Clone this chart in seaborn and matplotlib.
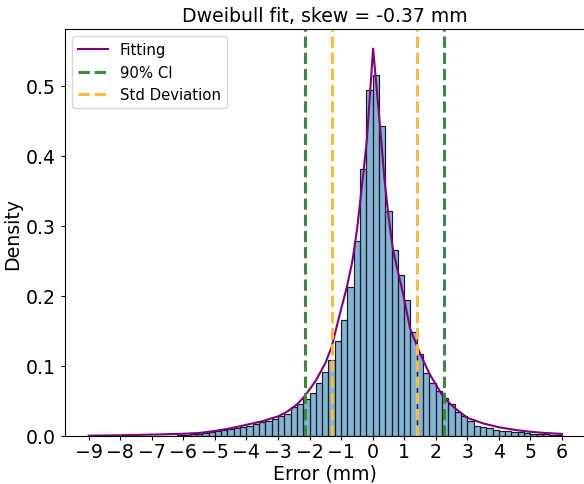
import numpy as np
import pandas as pd
import matplotlib
matplotlib.use("Agg")
import matplotlib.pyplot as plt
import seaborn as sns

# ---- data ----
bin_width = 0.2
bin_range = (-9.0, 6.0)
hist_heights = (
    [0.0] * 10                                          # -9.0 .. -7.2
    + [0.0003, 0.0004, 0.0005, 0.0007, 0.001]           # -7.0 .. -6.2
    + [0.0015, 0.0022, 0.003, 0.004, 0.0052]            # -6.0 .. -5.2
    + [0.0067, 0.0081, 0.0095, 0.011, 0.0129]           # -5.0 .. -4.2
    + [0.0148, 0.017, 0.0195, 0.022, 0.024]             # -4.0 .. -3.2
    + [0.029, 0.032, 0.041, 0.046, 0.053]               # -3.0 .. -2.2
    + [0.061, 0.075, 0.091, 0.109, 0.135]               # -2.0 .. -1.2
    + [0.166, 0.212, 0.278, 0.381, 0.494]               # -1.0 .. -0.2
    + [0.516, 0.442, 0.321, 0.265, 0.230]               #  0.0 ..  0.8
    + [0.194, 0.149, 0.117, 0.090, 0.0757]              #  1.0 ..  1.8
    + [0.0638, 0.0538, 0.0457, 0.0338, 0.028]           #  2.0 ..  2.8
    + [0.021, 0.0148, 0.0124, 0.011, 0.009]             #  3.0 ..  3.8
    + [0.0076, 0.0067, 0.0057, 0.005, 0.004]            #  4.0 ..  4.8
    + [0.0033, 0.003, 0.0025, 0.002, 0.0015]            #  5.0 ..  5.8
)

fit_x = [-9.0, -8.0, -7.0, -6.0, -5.5, -5.0, -4.5, -4.0, -3.5, -3.0, -2.7, -2.4,
         -2.15, -1.8, -1.5, -1.3, -1.0, -0.82, -0.64, -0.49, -0.28, -0.18, 0.015,
         0.2, 0.374, 0.5, 0.64, 0.8, 0.955, 1.19, 1.5, 1.8, 2.25, 2.6, 3.0,
         3.5, 4.0, 4.5, 5.0, 5.5, 6.0]
fit_y = [0.0005, 0.001, 0.002, 0.0032, 0.0043, 0.0072, 0.011, 0.016, 0.021, 0.028,
         0.035, 0.045, 0.057, 0.079, 0.104, 0.127, 0.181, 0.212, 0.250, 0.296,
         0.381, 0.424, 0.553, 0.460, 0.367, 0.315, 0.267, 0.235, 0.205, 0.153,
         0.118, 0.089, 0.055, 0.040, 0.026, 0.018, 0.0125, 0.0088, 0.006, 0.0042,
         0.003]

ci_bounds = [-2.15, 2.25]
std_bounds = [-1.29, 1.40]

title = "Dweibull fit, skew = -0.37 mm"
x_ticks = list(range(-9, 7))
y_ticks = [0.0, 0.1, 0.2, 0.3, 0.4, 0.5]

# ---- plot ----
n_bins = len(hist_heights)
centers = bin_range[0] + bin_width * (np.arange(n_bins) + 0.5)
df = pd.DataFrame({"center": centers, "height": hist_heights})
fit_df = pd.DataFrame({"x": fit_x, "y": fit_y})

W, H = 584, 485
fig = plt.figure(figsize=(W / 100, H / 100), dpi=100)
ax = fig.add_axes([65 / W, (H - 437) / H, (585.6 - 65) / W, (437 - 30) / H])

sns.histplot(data=df, x="center", weights="height", binwidth=bin_width,
             binrange=bin_range, stat="count",
             color="#1f77b4", alpha=0.55, edgecolor="#1a1a1a", linewidth=0.85, ax=ax)
sns.lineplot(data=fit_df, x="x", y="y", color="purple", linewidth=1.5,
             label="Fitting", ax=ax, estimator=None, sort=False)

green = "#3a8a3f"
orange = "#fdb93a"
ax.axvline(ci_bounds[0], color=green, linestyle="--", linewidth=2.2, label="90% CI")
ax.axvline(ci_bounds[1], color=green, linestyle="--", linewidth=2.2)
ax.axvline(std_bounds[0], color=orange, linestyle="--", linewidth=2.2, label="Std Deviation")
ax.axvline(std_bounds[1], color=orange, linestyle="--", linewidth=2.2)

fs = 13.6
ax.set_xlim(-9.75, 6.75)
ax.set_ylim(0, 0.581)
ax.set_xticks(x_ticks)
ax.set_xticklabels([str(t).replace("-", "\u2212") for t in x_ticks])
ax.set_yticks(y_ticks)
ax.set_yticklabels([f"{t:.1f}" for t in y_ticks])
ax.tick_params(labelsize=fs, length=3)
ax.tick_params(axis="x", pad=1.5)
ax.set_xlabel("Error (mm)", fontsize=fs, labelpad=1.5)
ax.set_ylabel("Density", fontsize=fs, labelpad=2.5)
ax.set_title(title, fontsize=fs, pad=6)
ax.legend(loc="upper left", fontsize=10.7)

fig.savefig("out.png", dpi=100)
